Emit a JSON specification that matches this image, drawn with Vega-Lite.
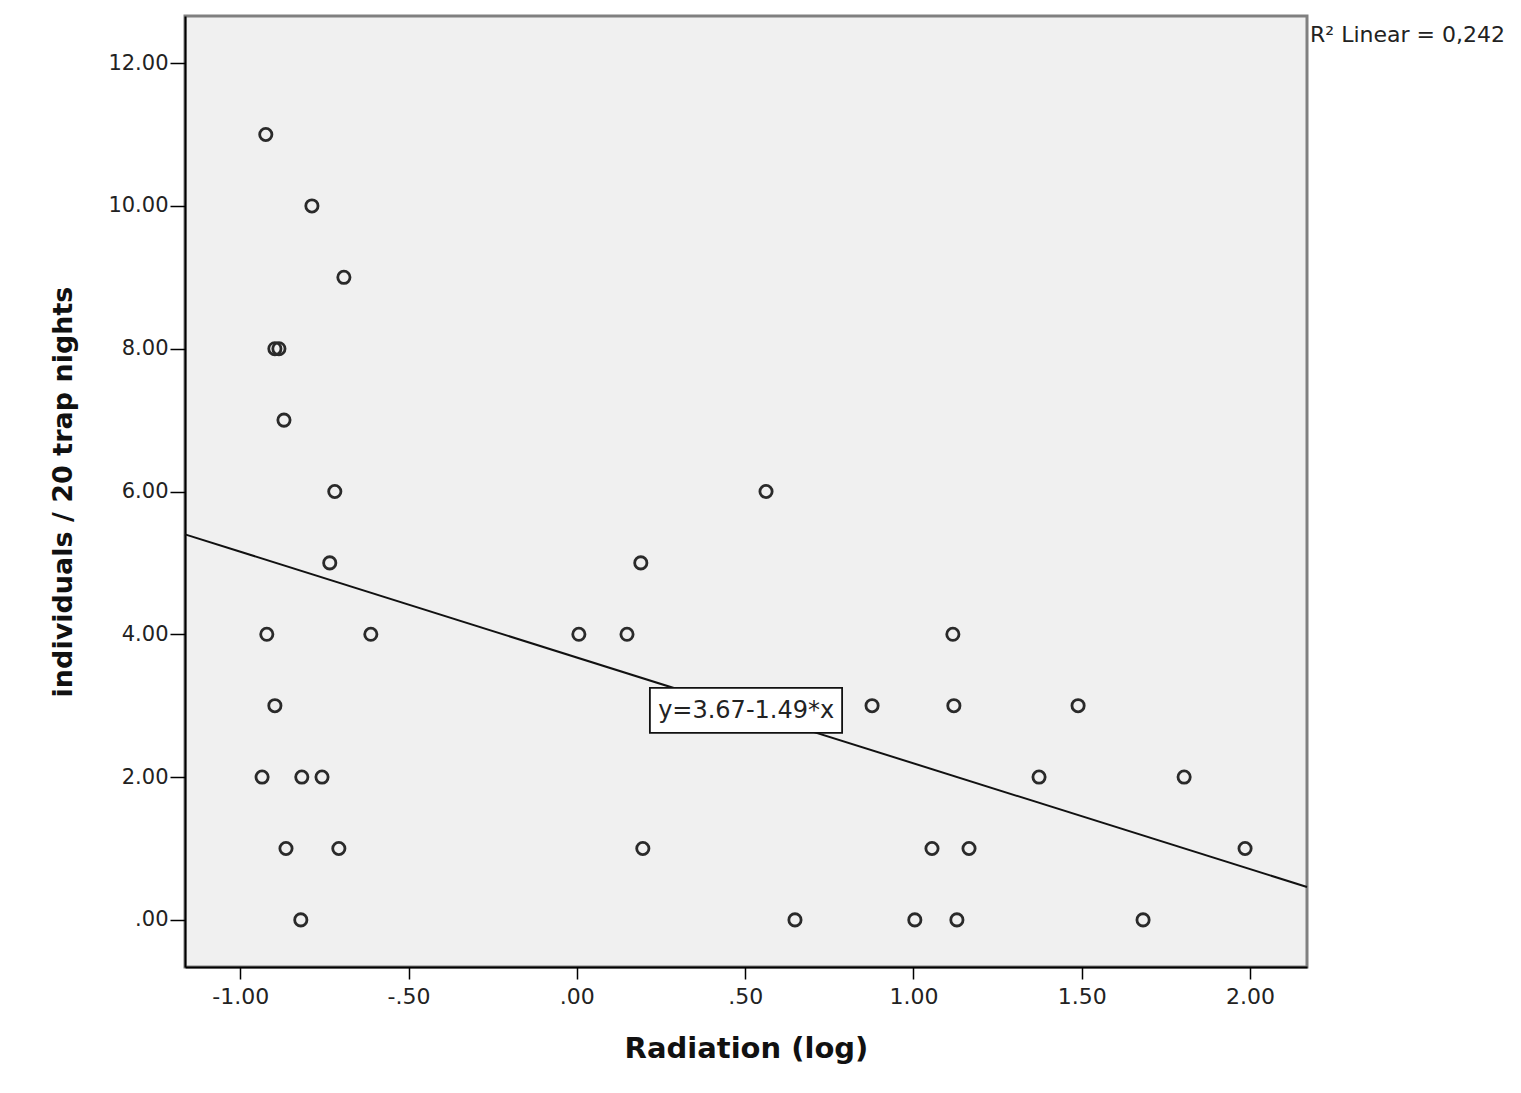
{
  "$schema": "https://vega.github.io/schema/vega-lite/v6.json",
  "width": 1122,
  "height": 951,
  "autosize": {"type": "none"},
  "padding": {"left": 185, "top": 16, "right": 214, "bottom": 126},
  "background": "white",
  "config": {
    "view": {"fill": "#f0f0f0", "stroke": "#808080", "strokeWidth": 3},
    "font": "DejaVu Sans"
  },
  "datasets": {
    "points": [
      {"radiation": -0.924, "individuals": 11},
      {"radiation": -0.787, "individuals": 10},
      {"radiation": -0.692, "individuals": 9},
      {"radiation": -0.897, "individuals": 8},
      {"radiation": -0.885, "individuals": 8},
      {"radiation": -0.870, "individuals": 7},
      {"radiation": -0.719, "individuals": 6},
      {"radiation": 0.562, "individuals": 6},
      {"radiation": -0.734, "individuals": 5},
      {"radiation": 0.190, "individuals": 5},
      {"radiation": -0.921, "individuals": 4},
      {"radiation": -0.612, "individuals": 4},
      {"radiation": 0.006, "individuals": 4},
      {"radiation": 0.149, "individuals": 4},
      {"radiation": 1.117, "individuals": 4},
      {"radiation": -0.897, "individuals": 3},
      {"radiation": 0.877, "individuals": 3},
      {"radiation": 1.120, "individuals": 3},
      {"radiation": 1.489, "individuals": 3},
      {"radiation": -0.935, "individuals": 2},
      {"radiation": -0.817, "individuals": 2},
      {"radiation": -0.757, "individuals": 2},
      {"radiation": 1.373, "individuals": 2},
      {"radiation": 1.804, "individuals": 2},
      {"radiation": -0.864, "individuals": 1},
      {"radiation": -0.707, "individuals": 1},
      {"radiation": 0.196, "individuals": 1},
      {"radiation": 1.055, "individuals": 1},
      {"radiation": 1.165, "individuals": 1},
      {"radiation": 1.985, "individuals": 1},
      {"radiation": -0.820, "individuals": 0},
      {"radiation": 0.648, "individuals": 0},
      {"radiation": 1.004, "individuals": 0},
      {"radiation": 1.129, "individuals": 0},
      {"radiation": 1.682, "individuals": 0}
    ],
    "fit": [
      {"radiation": -1.164, "individuals": 5.40},
      {"radiation": 2.169, "individuals": 0.46}
    ]
  },
  "layer": [
    {
      "data": {"name": "fit"},
      "mark": {"type": "line", "color": "#111111", "strokeWidth": 2},
      "encoding": {
        "x": {
          "field": "radiation", "type": "quantitative",
          "scale": {"domain": [-1.164, 2.169], "nice": false, "zero": false},
          "axis": {
            "title": "Radiation (log)",
            "values": [-1, -0.5, 0, 0.5, 1, 1.5, 2],
            "labelExpr": "replace(abs(datum.value) < 1 ? replace(format(datum.value, '.2f'), '0.', '.') : format(datum.value, '.2f'), '−', '-')",
            "grid": false,
            "domainColor": "#000000", "domainWidth": 2,
            "tickColor": "#000000", "tickWidth": 1.5, "tickSize": 12,
            "labelPadding": 7, "labelFontSize": 22, "labelColor": "#222222", "labelFont": "DejaVu Sans",
            "titleFontSize": 29, "titleFontWeight": "bold", "titleColor": "#111111", "titleFont": "DejaVu Sans",
            "titlePadding": 27
          }
        },
        "y": {
          "field": "individuals", "type": "quantitative",
          "scale": {"domain": [-0.66, 12.66], "nice": false, "zero": false},
          "axis": {
            "title": "individuals / 20 trap nights",
            "values": [0, 2, 4, 6, 8, 10, 12],
            "labelExpr": "replace(abs(datum.value) < 1 ? replace(format(datum.value, '.2f'), '0.', '.') : format(datum.value, '.2f'), '−', '-')",
            "grid": false,
            "domainColor": "#000000", "domainWidth": 2,
            "tickColor": "#000000", "tickWidth": 1.5, "tickSize": 15,
            "labelPadding": 2, "labelFontSize": 21, "labelColor": "#222222", "labelFont": "DejaVu Sans",
            "titleFontSize": 27, "titleFontWeight": "bold", "titleColor": "#111111", "titleFont": "DejaVu Sans",
            "titlePadding": 30
          }
        }
      }
    },
    {
      "data": {"name": "points"},
      "mark": {"type": "point", "shape": "circle", "filled": false, "size": 150, "strokeWidth": 2.8, "color": "#2a2a2a", "opacity": 1},
      "encoding": {
        "x": {"field": "radiation", "type": "quantitative"},
        "y": {"field": "individuals", "type": "quantitative"}
      }
    },
    {
      "data": {"values": [{}]},
      "mark": {"type": "rect", "fill": "white", "stroke": "#111111", "strokeWidth": 1.8},
      "encoding": {
        "x": {"datum": 0.217},
        "x2": {"datum": 0.788},
        "y": {"datum": 3.25},
        "y2": {"datum": 2.62}
      }
    },
    {
      "data": {"values": [{"label": "y=3.67-1.49*x"}]},
      "mark": {"type": "text", "fontSize": 24, "font": "DejaVu Sans", "color": "#222222", "align": "center", "baseline": "middle"},
      "encoding": {
        "x": {"datum": 0.503},
        "y": {"datum": 2.93},
        "text": {"field": "label"}
      }
    },
    {
      "data": {"values": [{"label": "R² Linear = 0,242"}]},
      "mark": {"type": "text", "fontSize": 22, "font": "DejaVu Sans", "color": "#222222", "align": "left", "baseline": "middle"},
      "encoding": {
        "x": {"datum": 2.178},
        "y": {"datum": 12.39},
        "text": {"field": "label"}
      }
    }
  ]
}
